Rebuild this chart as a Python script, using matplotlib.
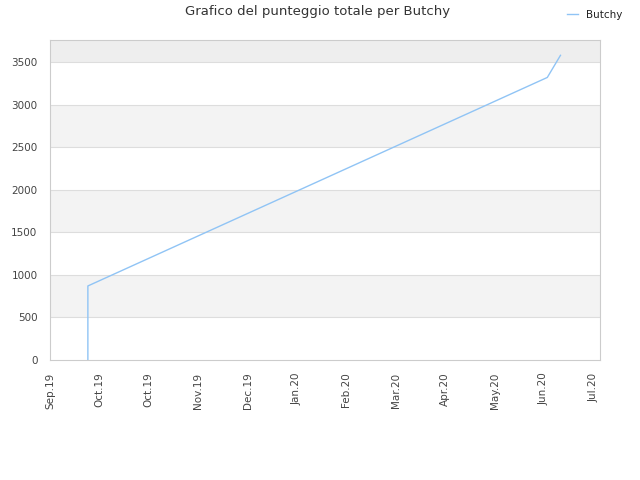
import matplotlib
matplotlib.use("Agg")
import matplotlib.pyplot as plt
import numpy as np
import pandas as pd

# data
dates = pd.to_datetime(["2019-09-24", "2019-09-24", "2020-06-29", "2020-07-07"])
scores = [0, 870, 3320, 3580]
series_label = "Butchy"
title = "Grafico del punteggio totale per Butchy"

tick_start = pd.Timestamp("2019-09-01")
tick_dates = [tick_start + pd.Timedelta(days=30 * i) for i in range(12)]
tick_labels = [d.strftime("%b.%y") for d in tick_dates]
y_ticks = [0, 500, 1000, 1500, 2000, 2500, 3000, 3500]

fig = plt.figure(figsize=(6.4, 4.8), dpi=100)
ax = fig.add_axes([50 / 640, 1 - 360 / 480, 550 / 640, 320 / 480])

ymax = 3760
# alternating bands
for i, lo in enumerate(y_ticks):
    hi = y_ticks[i + 1] if i + 1 < len(y_ticks) else ymax
    if lo == 3500:
        ax.axhspan(lo, hi, color="#eeeeee", zorder=0, lw=0)
    elif i % 2 == 1:
        ax.axhspan(lo, hi, color="#f3f3f3", zorder=0, lw=0)
for y in y_ticks[1:]:
    ax.axhline(y, color="#dddddd", lw=0.8, zorder=1)

ax.plot(dates, scores, color="#90c4f5", lw=1, label=series_label, zorder=2)

ax.set_xlim(tick_start, pd.Timestamp("2020-07-31"))
ax.set_ylim(0, ymax)
ax.set_xticks(tick_dates)
ax.set_xticklabels(tick_labels, rotation=90)
ax.set_yticks(y_ticks)
ax.tick_params(length=0, labelsize=7.5, colors="#444444")
ax.tick_params(axis="x", pad=9)
ax.tick_params(axis="y", pad=9)
for s in ax.spines.values():
    s.set_color("#cccccc")

fig.suptitle(title, x=318 / 640, y=1 - 12 / 480, va="center", fontsize=9.5, color="#333333")
leg = fig.legend(loc="center right", bbox_to_anchor=(632 / 640, 1 - 15 / 480), frameon=False,
                 fontsize=7.5, handlelength=1.0, handletextpad=0.8)
for t in leg.get_texts():
    t.set_color("#222222")

fig.savefig("out.png", dpi=100)
